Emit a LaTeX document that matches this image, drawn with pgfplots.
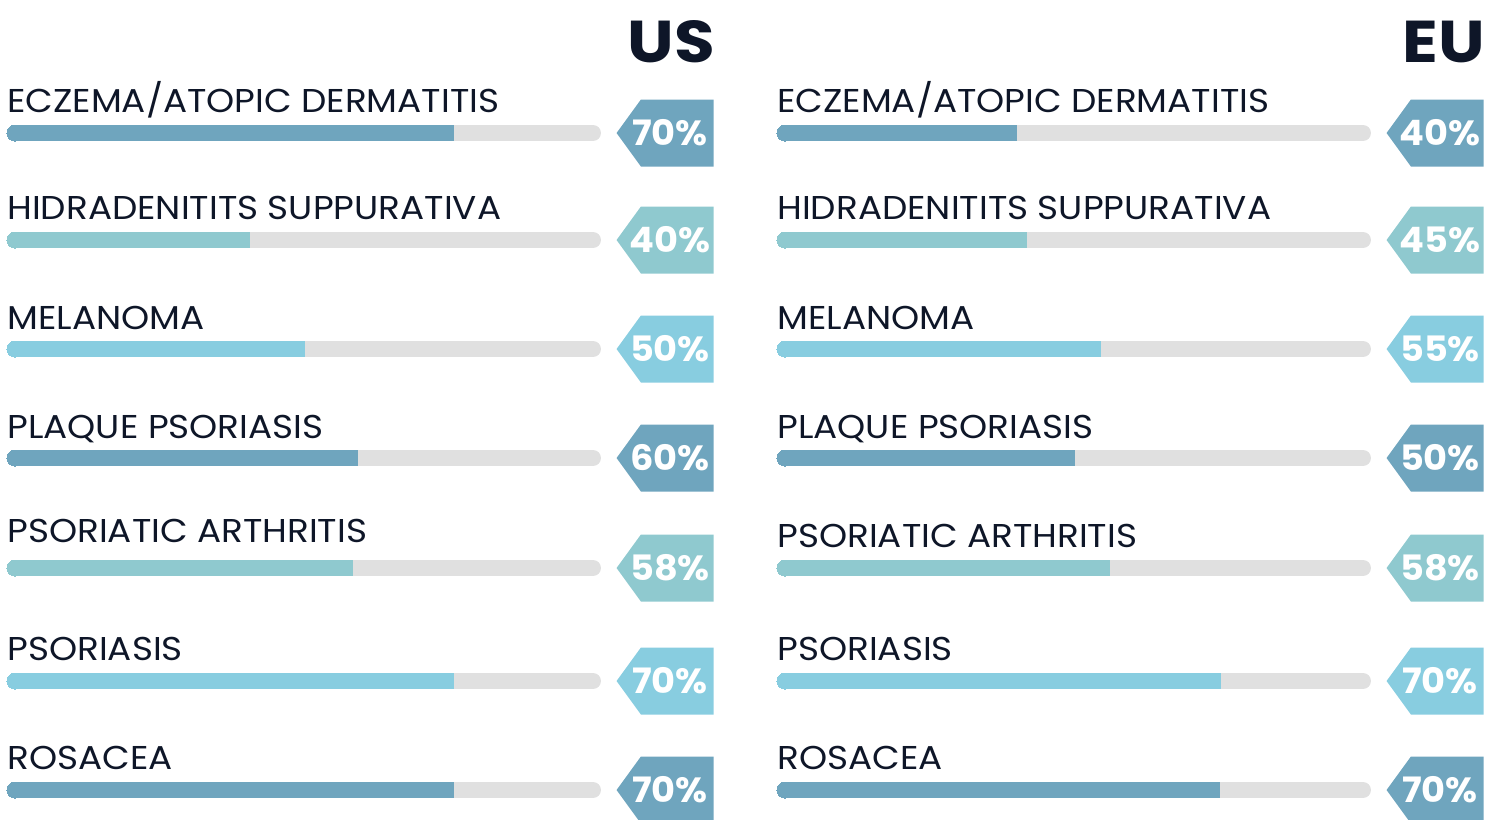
\documentclass[border=0pt]{standalone}
\usepackage{pgfplots}
\pgfplotsset{compat=1.18}
\usepackage{fontspec}
\setmainfont{Poppins}
\newfontfamily\labfont[FakeStretch=1.085]{Poppins}
\newfontfamily\pctfont[FakeStretch=1.05]{Poppins}
\newfontfamily\ttlfont[FakeStretch=1.12]{Poppins}
\usetikzlibrary{shapes.symbols}
\definecolor{cdark}{HTML}{6FA5BE}
\definecolor{cteal}{HTML}{8FC9CF}
\definecolor{cblue}{HTML}{88CDE0}
\definecolor{ctrack}{HTML}{E0E0E0}
\definecolor{cnavy}{HTML}{0E1628}
\pgfplotsset{
  panel/.style={at={(0,0)}, anchor=north west, scale only axis,
    width=742.5pt, height=410pt, ymin=0, ymax=820, y dir=reverse,
    hide axis, clip=false},
  track/.style={ctrack, line width=8pt, line cap=round},
  fillbar/.style={#1, line width=8pt, line cap=butt, mark=*, mark indices={1},
    mark size=4pt, mark options={line width=0pt, draw=none, fill=#1}},
  cat/.style={draw=none, mark=none, nodes near coords, point meta=explicit symbolic,
    nodes near coords style={anchor=base west, inner sep=0pt, text=cnavy,
      font=\labfont\fontsize{16.5}{16.5}\selectfont}},
  tag/.style={draw=none, mark=none, nodes near coords={\hbox{}},
    nodes near coords style={anchor=east, signal, signal to=west, signal pointer angle=108,
      fill=#1, inner sep=0pt, minimum height=33.5pt, minimum width=48.5pt}},
  pct/.style={draw=none, mark=none, nodes near coords, point meta=explicit symbolic,
    nodes near coords style={anchor=center, inner sep=0pt, text=white,
      font=\pctfont\bfseries\fontsize{17.5}{17.5}\selectfont}},
  ttl/.style={draw=none, mark=none, nodes near coords, point meta=explicit symbolic,
    nodes near coords style={anchor=base east, inner sep=0pt, text=cnavy,
      font=\ttlfont\bfseries\fontsize{29.5}{29.5}\selectfont}},
}
\begin{document}
\begin{tikzpicture}
\useasboundingbox (0,0) rectangle (742.5pt,-410pt);
% ---------------- US ----------------
\begin{axis}[panel, xmin=-2.595, xmax=254.33]
\addplot[track] coordinates {(0,133) (100,133)};
\addplot[track] coordinates {(0,240) (100,240)};
\addplot[track] coordinates {(0,349) (100,349)};
\addplot[track] coordinates {(0,458) (100,458)};
\addplot[track] coordinates {(0,568) (100,568)};
\addplot[track] coordinates {(0,681) (100,681)};
\addplot[track] coordinates {(0,790) (100,790)};
\addplot[fillbar=cdark] coordinates {(0,133) (75.9,133)};
\addplot[fillbar=cteal] coordinates {(0,240) (40.7,240)};
\addplot[fillbar=cblue] coordinates {(0,349) (50.2,349)};
\addplot[fillbar=cdark] coordinates {(0,458) (59.3,458)};
\addplot[fillbar=cteal] coordinates {(0,568) (58.5,568)};
\addplot[fillbar=cblue] coordinates {(0,681) (75.9,681)};
\addplot[fillbar=cdark] coordinates {(0,790) (75.9,790)};
\addplot[cat] coordinates {
  (-1.384,112) [ECZEMA/ATOPIC DERMATITIS]
  (-1.384,219) [HIDRADENITITS SUPPURATIVA]
  (-1.384,329) [MELANOMA]
  (-1.384,438) [PLAQUE PSORIASIS]
  (-1.384,542) [PSORIATIC ARTHRITIS]
  (-1.384,660) [PSORIASIS]
  (-1.384,769) [ROSACEA]};
\addplot[tag=cdark] coordinates {(120.93,133) (120.93,458) (120.93,790)};
\addplot[tag=cteal] coordinates {(120.93,240) (120.93,568)};
\addplot[tag=cblue] coordinates {(120.93,349) (120.93,681)};
\addplot[pct] coordinates {(113.32,133) [70\%] (113.32,240) [40\%] (113.32,349) [50\%]
  (113.32,458) [60\%] (113.32,568) [58\%] (113.32,681) [70\%] (113.32,790) [70\%]};
\addplot[ttl] coordinates {(121.2,62) [US]};
\end{axis}
% ---------------- EU ----------------
\begin{axis}[panel, xmin=-135.81, xmax=121.11]
\addplot[track] coordinates {(0,133) (100,133)};
\addplot[track] coordinates {(0,240) (100,240)};
\addplot[track] coordinates {(0,349) (100,349)};
\addplot[track] coordinates {(0,458) (100,458)};
\addplot[track] coordinates {(0,568) (100,568)};
\addplot[track] coordinates {(0,681) (100,681)};
\addplot[track] coordinates {(0,790) (100,790)};
\addplot[fillbar=cdark] coordinates {(0,133) (40.1,133)};
\addplot[fillbar=cteal] coordinates {(0,240) (41.9,240)};
\addplot[fillbar=cblue] coordinates {(0,349) (54.7,349)};
\addplot[fillbar=cdark] coordinates {(0,458) (50.2,458)};
\addplot[fillbar=cteal] coordinates {(0,568) (56.2,568)};
\addplot[fillbar=cblue] coordinates {(0,681) (75.4,681)};
\addplot[fillbar=cdark] coordinates {(0,790) (75.3,790)};
\addplot[cat] coordinates {
  (-1.384,112) [ECZEMA/ATOPIC DERMATITIS]
  (-1.384,219) [HIDRADENITITS SUPPURATIVA]
  (-1.384,329) [MELANOMA]
  (-1.384,438) [PLAQUE PSORIASIS]
  (-1.384,547) [PSORIATIC ARTHRITIS]
  (-1.384,660) [PSORIASIS]
  (-1.384,769) [ROSACEA]};
\addplot[tag=cdark] coordinates {(120.93,133) (120.93,458) (120.93,790)};
\addplot[tag=cteal] coordinates {(120.93,240) (120.93,568)};
\addplot[tag=cblue] coordinates {(120.93,349) (120.93,681)};
\addplot[pct] coordinates {(113.32,133) [40\%] (113.32,240) [45\%] (113.32,349) [55\%]
  (113.32,458) [50\%] (113.32,568) [58\%] (113.32,681) [70\%] (113.32,790) [70\%]};
\addplot[ttl] coordinates {(121.2,62) [EU]};
\end{axis}
\end{tikzpicture}
\end{document}
